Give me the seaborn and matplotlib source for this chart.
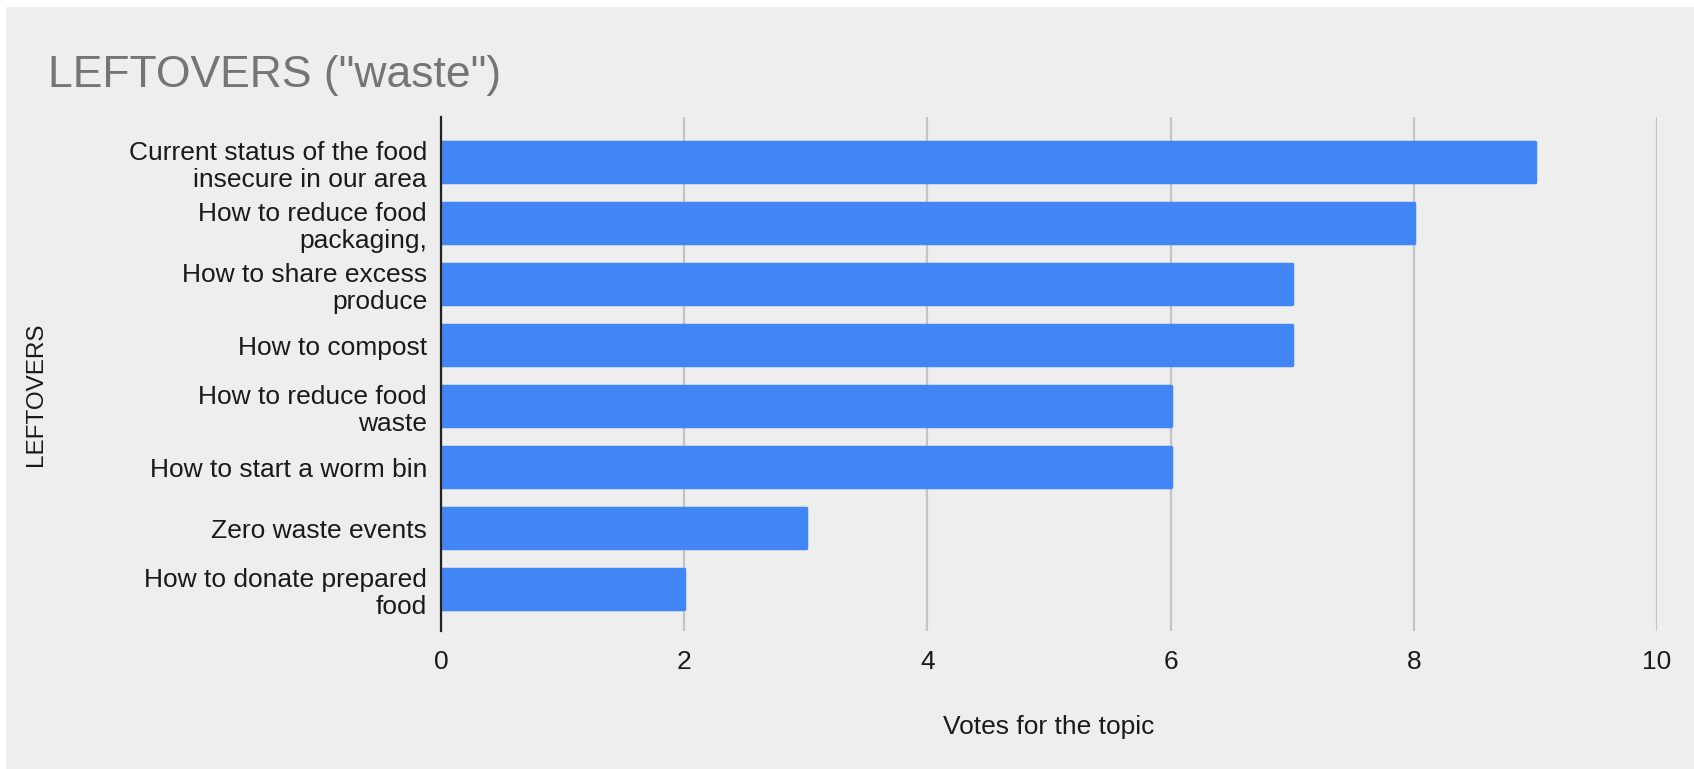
import matplotlib
matplotlib.use("Agg")
import matplotlib.pyplot as plt
import seaborn as sns
import pandas as pd
from matplotlib.patches import Rectangle

categories = [
    "Current status of the food\ninsecure in our area",
    "How to reduce food\npackaging,",
    "How to share excess\nproduce",
    "How to compost",
    "How to reduce food\nwaste",
    "How to start a worm bin",
    "Zero waste events",
    "How to donate prepared\nfood",
]
votes = [9, 8, 7, 7, 6, 6, 3, 2]
x_ticks = [0, 2, 4, 6, 8, 10]

df = pd.DataFrame({"topic": categories, "votes": votes})

sns.set_theme(style="white")
plt.rcParams['font.family'] = ['Liberation Sans', 'DejaVu Sans']

W, H = 1694, 769
fig = plt.figure(figsize=(W / 100, H / 100), dpi=100, facecolor="white")
fig.patches.append(Rectangle((6 / W, 0), 1 - 6 / W, 1 - 7 / H, transform=fig.transFigure,
                             facecolor="#eeeeee", edgecolor="none", zorder=-10))
ax = fig.add_axes([441 / W, 1 - 631 / H, (1657 - 441) / W, (631 - 117) / H])
ax.set_facecolor("#eeeeee")

sns.barplot(data=df, x="votes", y="topic", color="#4285f4", width=0.655,
            saturation=1, ax=ax, zorder=3)
for p in ax.patches:
    p.set_edgecolor("#4285f4")
    p.set_linewidth(2.5)
    p.set_joinstyle("round")

ax.set_xlim(0, 10)
ax.set_ylim(7.68, -0.74)
ax.set_xticks(x_ticks)
ax.set_xticklabels([str(t) for t in x_ticks])
ax.grid(axis="x", color="#c4c4c4", linewidth=1.6, zorder=0)
ax.set_axisbelow(True)
for s in ["top", "right", "bottom"]:
    ax.spines[s].set_visible(False)
ax.spines["left"].set_color("#222222")
ax.spines["left"].set_linewidth(1.6)
ax.spines["left"].set_zorder(5)
ax.tick_params(axis="both", length=0, labelsize=19, colors="#1a1a1a")
ax.tick_params(axis="y", pad=10)
ax.tick_params(axis="x", pad=14)
for lbl in ax.get_yticklabels():
    lbl.set_linespacing(1.15)

ax.set_xlabel("Votes for the topic", fontsize=19, color="#1a1a1a", labelpad=29)
ax.set_ylabel("")
fig.text(36 / W, 1 - 394 / H, "LEFTOVERS", rotation=90, fontsize=17.5, color="#1a1a1a",
         ha="center", va="center")
fig.text(48 / W, 1 - 76 / H, 'LEFTOVERS ("waste")', fontsize=32, color="#757575",
         ha="left", va="center")

fig.savefig("out.png", dpi=100, facecolor=fig.get_facecolor())
